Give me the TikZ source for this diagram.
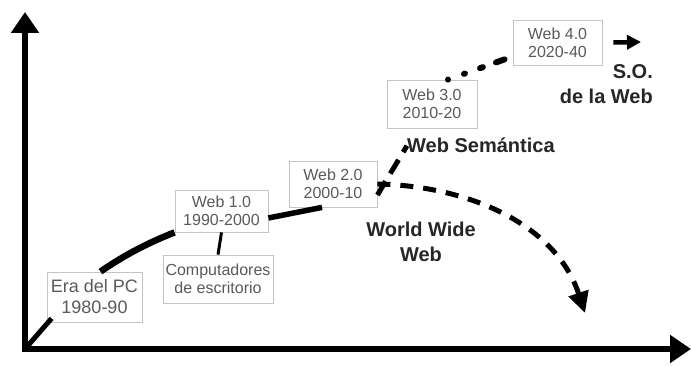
\documentclass[tikz,border=0pt]{standalone}
\usepackage{fontspec}
\setmainfont{Liberation Sans}
\usetikzlibrary{arrows.meta}
\definecolor{boxtext}{HTML}{5A5A5A}
\definecolor{boxline}{HTML}{C4C4C4}
\begin{document}
\begin{tikzpicture}[x=1pt,y=-1pt,
  box/.style={draw=boxline, line width=0.8pt, fill=white, text=boxtext, align=center,
    inner sep=0pt, font=\fontsize{16}{18}\selectfont},
  axis/.style={line width=5.5pt, -{Triangle[width=27pt,length=21pt]}},
  mainline/.style={line width=6.5pt},
  dashline/.style={line width=5pt, dash pattern=on 13pt off 10pt},
  boldlabel/.style={inner sep=0pt, font=\fontsize{20}{25}\selectfont\bfseries, text=black!85}]
\useasboundingbox (0,0) rectangle (691,366);

% axes
\coordinate (O) at (25,349);
\coordinate (ytop) at (25,12);
\coordinate (xend) at (691,349);
\draw[axis] ([yshift=-3pt]O) -- (ytop);
\draw[axis] ([xshift=-3pt]O) -- (xend);

% boxes
\node[box, minimum width=95pt, minimum height=50pt, font=\fontsize{18}{21}\selectfont] (era) at (94.5,297) {Era del PC\\1980-90};
\node[box, minimum width=93pt, minimum height=42pt] (web1) at (221.5,211) {Web 1.0\\1990-2000};
\node[box, minimum width=110pt, minimum height=48pt] (comp) at (218,279) {Computadores\\de escritorio};
\node[box, minimum width=88pt, minimum height=46pt] (web2) at (333,184) {Web 2.0\\2000-10};
\node[box, minimum width=90pt, minimum height=48pt] (web3) at (432,104) {Web 3.0\\2010-20};
\node[box, minimum width=89pt, minimum height=45pt] (web4) at (557.5,42.5) {Web 4.0\\2020-40};

% bold labels
\node[boldlabel, anchor=base west] (sem) at (407,153) {Web Semántica};
\node[boldlabel, anchor=north, align=center] (www) at (421,222) {World Wide\\Web};
\node[boldlabel, anchor=north east, align=right] (so) at (653,64) {S.O.\\de la Web};

% connectors
\draw[line width=5pt] (O) -- ([shift={(5pt,4pt)}]era.south west);
\draw[mainline] ([xshift=6pt]era.north) .. controls (126,254) and (150,242) .. (web1.south west);
\draw[line width=3pt] (web1.south) -- (comp.north);
\draw[line width=5.5pt] ([yshift=-7pt]web1.east) -- ([xshift=-11pt]web2.south);

\coordinate (wwwend) at (585,313);
\draw[dashline, -{Triangle[width=20pt,length=21pt]}] (web2.east) .. controls (470,186) and (556,225) .. (wwwend);
\draw[line width=5pt, dash pattern=on 16pt off 9pt] ([yshift=-11pt]web2.east) -- (sem.west);
\draw[line width=6pt, line cap=round, dash pattern=on 0pt off 17pt on 1pt off 16pt on 3pt off 14pt on 9pt off 20pt] ([xshift=16pt]web3.north) -- ([yshift=-14pt]web4.west);

\coordinate (soend) at (641,42);
\draw[line width=4.5pt, -{Triangle[width=14pt,length=14pt]}] ([xshift=11pt]web4.east) -- (soend);
\end{tikzpicture}
\end{document}
